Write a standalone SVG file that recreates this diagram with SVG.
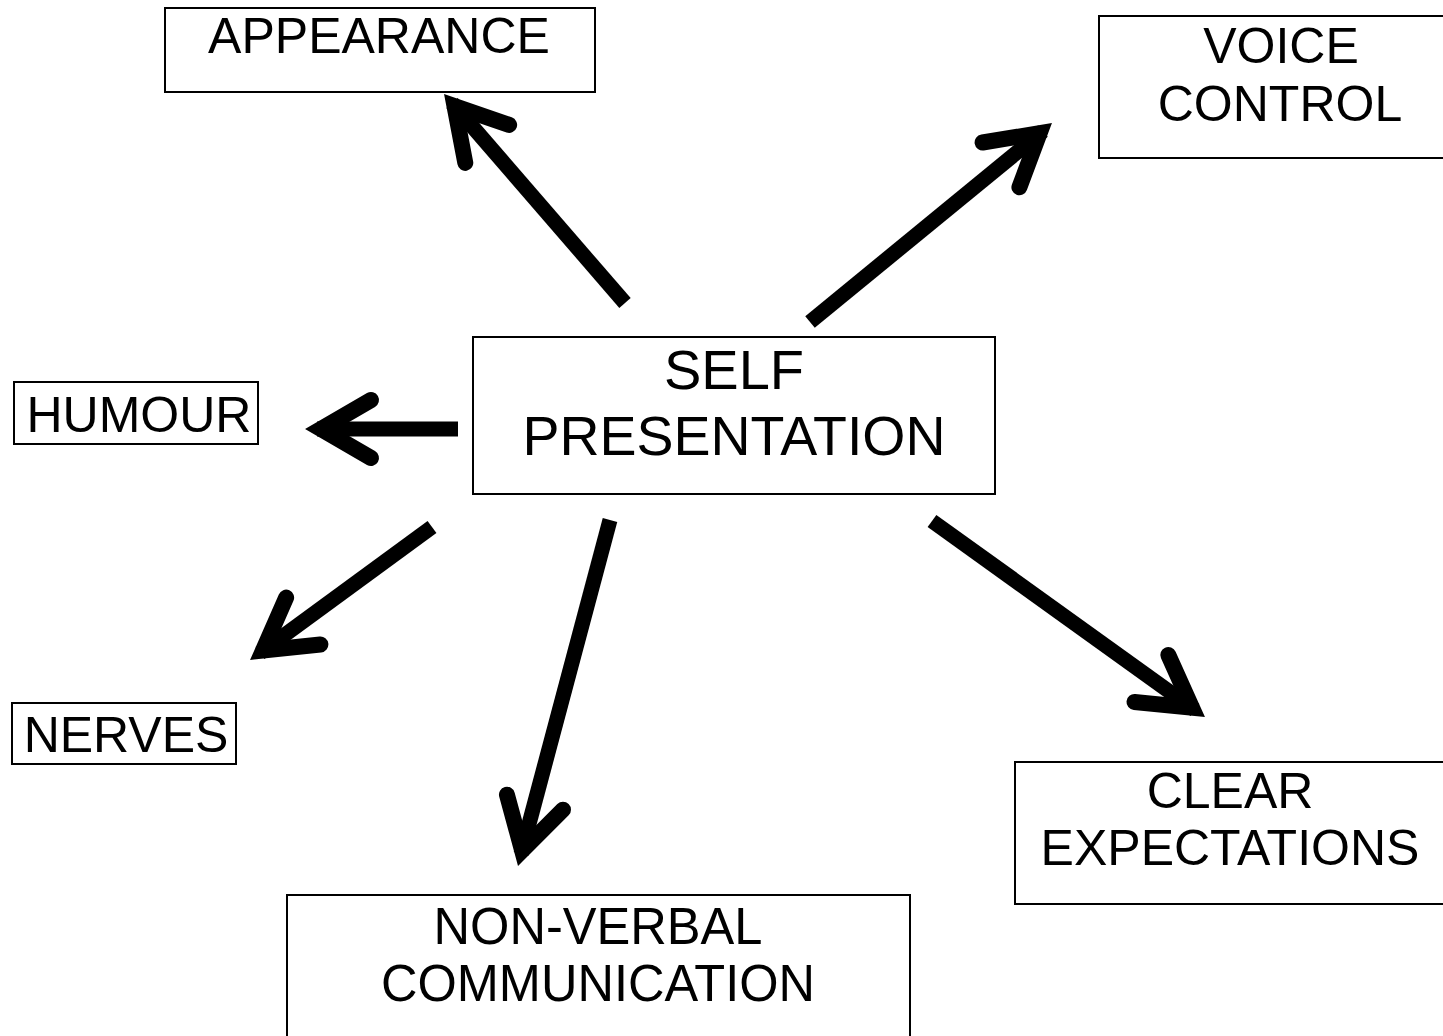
<svg xmlns="http://www.w3.org/2000/svg" xmlns:xlink="http://www.w3.org/1999/xlink" width="1443" height="1036" viewBox="0 0 1443 1036">
  <style>
    .box { fill: #fff; stroke: #000; stroke-width: 2; }
    .lbl { font-family: "Liberation Sans", Arial, sans-serif; font-size: 50px; text-anchor: middle; fill: #000; }
    .big { font-size: 56px; }
    .tall { font-size: 52px; }
    .shaft { stroke: #000; stroke-width: 15; stroke-linecap: butt; fill: none; }
  </style>
  <defs>
    <!-- open chevron head, tip at origin pointing along +x -->
    <path id="head" d="M-66,-29 L-16,0 L-66,29" fill="none" stroke="#000" stroke-width="16" stroke-linecap="round" stroke-linejoin="miter" stroke-miterlimit="10"/>
  </defs>
  <rect width="1443" height="1036" fill="#fff"/>

  <g id="connectors">
    <line class="shaft" x1="625" y1="303" x2="452" y2="103"/>
    <use xlink:href="#head" transform="translate(444,94) rotate(-130.9)"/>
    <line class="shaft" x1="810" y1="322" x2="1043" y2="131"/>
    <use xlink:href="#head" transform="translate(1052,123) rotate(-39.4)"/>
    <line class="shaft" x1="458" y1="429" x2="317" y2="429"/>
    <use xlink:href="#head" transform="translate(305,429) rotate(180)"/>
    <line class="shaft" x1="432" y1="527" x2="260" y2="653"/>
    <use xlink:href="#head" transform="translate(250,660) rotate(143.8)"/>
    <line class="shaft" x1="610" y1="520" x2="521" y2="854"/>
    <use xlink:href="#head" transform="translate(518,866) rotate(104.9)"/>
    <line class="shaft" x1="932" y1="521" x2="1195" y2="710"/>
    <use xlink:href="#head" transform="translate(1205,717) rotate(35.7)"/>
  </g>

  <g id="self-presentation">
    <rect class="box" x="473" y="337" width="522" height="157"/>
    <text class="lbl big" x="734" y="389">SELF</text>
    <text class="lbl big" x="734" y="455" textLength="423" lengthAdjust="spacingAndGlyphs">PRESENTATION</text>
  </g>

  <g id="appearance">
    <rect class="box" x="165" y="8" width="430" height="84"/>
    <text class="lbl" x="379" y="53">APPEARANCE</text>
  </g>

  <g id="voice-control">
    <rect class="box" x="1099" y="16" width="370" height="142"/>
    <text class="lbl" x="1281" y="63">VOICE</text>
    <text class="lbl" x="1280" y="121">CONTROL</text>
  </g>

  <g id="humour">
    <rect class="box" x="14" y="382" width="244" height="62"/>
    <text class="lbl" x="139" y="432">HUMOUR</text>
  </g>

  <g id="nerves">
    <rect class="box" x="12" y="703" width="224" height="61"/>
    <text class="lbl" x="126" y="752">NERVES</text>
  </g>

  <g id="clear-expectations">
    <rect class="box" x="1015" y="762" width="450" height="142"/>
    <text class="lbl" x="1230" y="808">CLEAR</text>
    <text class="lbl" x="1230" y="865">EXPECTATIONS</text>
  </g>

  <g id="non-verbal-communication">
    <rect class="box" x="287" y="895" width="623" height="160"/>
    <text class="lbl tall" x="598" y="944" textLength="329" lengthAdjust="spacingAndGlyphs">NON-VERBAL</text>
    <text class="lbl tall" x="598" y="1001" textLength="434" lengthAdjust="spacingAndGlyphs">COMMUNICATION</text>
  </g>
</svg>
